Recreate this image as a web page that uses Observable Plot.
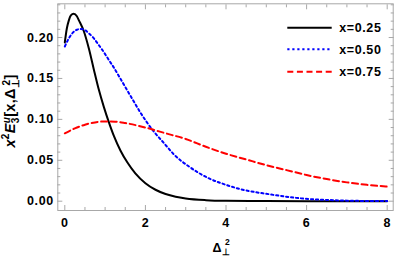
<!DOCTYPE html>
<html><head><meta charset="utf-8">
<script src="https://cdn.jsdelivr.net/npm/d3@7"></script>
<script src="https://cdn.jsdelivr.net/npm/@observablehq/plot@0.6"></script>
<style>
body{margin:0;background:#fff}
#chart svg text{letter-spacing:0.6px}
</style></head><body><div id="chart"></div>
<script>
// Series x = 0.25 (solid black)
const x025 = [0, 0.05, 0.1, 0.15, 0.22, 0.3, 0.35, 0.47, 0.6, 0.72, 0.84, 0.97, 1.09, 1.22, 1.38, 1.55, 1.75, 2.0, 2.25, 2.5, 2.75, 3.0, 3.5, 4.0, 5.0, 6.0, 7.0, 8.0];
const y025 = [0.194, 0.211, 0.221, 0.227, 0.229, 0.226, 0.221, 0.208, 0.186, 0.161, 0.137, 0.115, 0.097, 0.0795, 0.062, 0.0475, 0.034, 0.022, 0.014, 0.0088, 0.0055, 0.0034, 0.0013, 0.0005, 0.0001, 0, 0, 0];
// Series x = 0.50 (dotted blue)
const x050 = [0, 0.1, 0.2, 0.3, 0.4, 0.5, 0.6, 0.72, 0.84, 0.97, 1.1, 1.22, 1.34, 1.46, 1.59, 1.71, 1.88, 2.0, 2.21, 2.46, 2.7, 3.12, 3.53, 4.0, 4.36, 5.06, 5.85, 6.67, 7.3, 8.0];
const y050 = [0.189, 0.199, 0.206, 0.2095, 0.2105, 0.209, 0.205, 0.199, 0.191, 0.182, 0.172, 0.163, 0.153, 0.143, 0.132, 0.122, 0.108, 0.099, 0.085, 0.071, 0.0575, 0.041, 0.029, 0.020, 0.0147, 0.0086, 0.0035, 0.0012, 0.0004, 0.0001];
// Series x = 0.75 (dashed red)
const x075 = [0, 0.25, 0.5, 0.75, 1.0, 1.25, 1.5, 2.0, 2.5, 3.0, 3.5, 4.0, 4.5, 5.0, 5.5, 6.0, 6.5, 7.0, 7.5, 8.0];
const y075 = [0.083, 0.089, 0.0935, 0.0963, 0.0975, 0.0972, 0.0955, 0.090, 0.083, 0.076, 0.0665, 0.058, 0.051, 0.044, 0.038, 0.032, 0.027, 0.023, 0.020, 0.0178];

const seriesNames = ["x=0.25", "x=0.50", "x=0.75"];
const seriesColors = ["#000000", "#0000ff", "#ff0000"];
const seriesDash = [null, "2.2,2.8", "6,3.6"];
const seriesX = [x025, x050, x075];
const seriesY = [y025, y050, y075];

const xMajor = [0, 2, 4, 6, 8];
const xMinor = [0.5, 1, 1.5, 2.5, 3, 3.5, 4.5, 5, 5.5, 6.5, 7, 7.5];
const yMajor = [0, 0.05, 0.10, 0.15, 0.20];
const yMinor = [0.01, 0.02, 0.03, 0.04, 0.06, 0.07, 0.08, 0.09, 0.11, 0.12, 0.13, 0.14, 0.16, 0.17, 0.18, 0.19, 0.21, 0.22, 0.23, 0.24];

const rows = seriesNames.flatMap((name, k) => seriesX[k].map((x, i) => ({series: name, x, y: seriesY[k][i]})));

const gray = "#a8a8a8";
const tickMarks = [];
for (const anchor of ["bottom", "top"]) {
  tickMarks.push(Plot.axisX(xMajor, {anchor, tickSize: -5, stroke: gray, tickFormat: () => "", label: null}));
  tickMarks.push(Plot.axisX(xMinor, {anchor, tickSize: -3, stroke: gray, tickFormat: () => "", label: null}));
}
for (const anchor of ["left", "right"]) {
  tickMarks.push(Plot.axisY(yMajor, {anchor, tickSize: -5, stroke: gray, tickFormat: () => "", label: null}));
  tickMarks.push(Plot.axisY(yMinor, {anchor, tickSize: -3, stroke: gray, tickFormat: () => "", label: null}));
}

const chart = Plot.plot({
  width: 398, height: 259,
  marginLeft: 57.3, marginRight: 5.3, marginTop: 3.3, marginBottom: 49,
  style: {fontFamily: "'Liberation Sans', Arial, sans-serif", fontSize: "12.5px", fontWeight: "bold", color: "#000", background: "#fff", overflow: "visible"},
  x: {domain: [-0.174, 8.149]},
  y: {domain: [-0.01136, 0.2412]},
  marks: [
    ...seriesNames.map((name, k) => Plot.line(rows.filter(r => r.series === name), {
      x: "x", y: "y", stroke: seriesColors[k], strokeWidth: 2,
      strokeDasharray: seriesDash[k], curve: "monotone-x"
    })),
    Plot.frame({stroke: gray}),
    ...tickMarks,
    Plot.axisX(xMajor, {anchor: "bottom", tickSize: 0, tickPadding: 8, label: null, tickFormat: d => String(d)}),
    Plot.axisY(yMajor, {anchor: "left", tickSize: 0, tickPadding: 4, label: null, tickFormat: d3.format(".2f")})
  ]
});
document.getElementById("chart").append(chart);

const svg = d3.select(chart);
// Legend
const legY = [27.7, 49.3, 71.7];
seriesNames.forEach((name, k) => {
  svg.append("line").attr("x1", 287.3).attr("x2", 331.7).attr("y1", legY[k]).attr("y2", legY[k])
    .attr("stroke", seriesColors[k]).attr("stroke-width", 2)
    .attr("stroke-dasharray", seriesDash[k]);
  svg.append("text").attr("x", 339.3).attr("y", legY[k]).attr("dy", "0.36em")
    .attr("text-anchor", "start").attr("fill", "#000").text(name);
});

// Y axis label: x^2 E_3^u [x, Δ_⊥^2]
const yl = svg.append("text")
  .attr("transform", "translate(15,111) rotate(-90)")
  .attr("text-anchor", "middle").attr("font-size", 14.5).attr("fill", "#000")
  .style("letter-spacing", "0.3px");
yl.append("tspan").attr("font-style", "italic").text("x");
yl.append("tspan").attr("font-size", 10).attr("dy", -6).text("2");
yl.append("tspan").attr("font-style", "italic").attr("dy", 6).text("E");
yl.append("tspan").attr("font-size", 10).attr("dy", 3.5).text("3");
yl.append("tspan").attr("font-size", 10).attr("font-style", "italic").attr("dx", -5.8).attr("dy", -9).text("u");
yl.append("tspan").attr("dy", 5.5).text("[x,Δ");
yl.append("tspan").attr("font-size", 10).attr("dy", 3.5).text("⊥");
yl.append("tspan").attr("font-size", 10).attr("dx", -6.5).attr("dy", -9).text("2");
yl.append("tspan").attr("dy", 5.5).text("]");

// X axis label: Δ_⊥^2
const xl = svg.append("text")
  .attr("x", 221.5).attr("y", 251.7)
  .attr("text-anchor", "middle").attr("font-size", 12.5).attr("fill", "#000");
xl.append("tspan").text("Δ");
xl.append("tspan").attr("font-size", 8.5).attr("dy", 3).text("⊥");
xl.append("tspan").attr("font-size", 8.5).attr("dx", -5.5).attr("dy", -9.5).text("2");
</script></body></html>
